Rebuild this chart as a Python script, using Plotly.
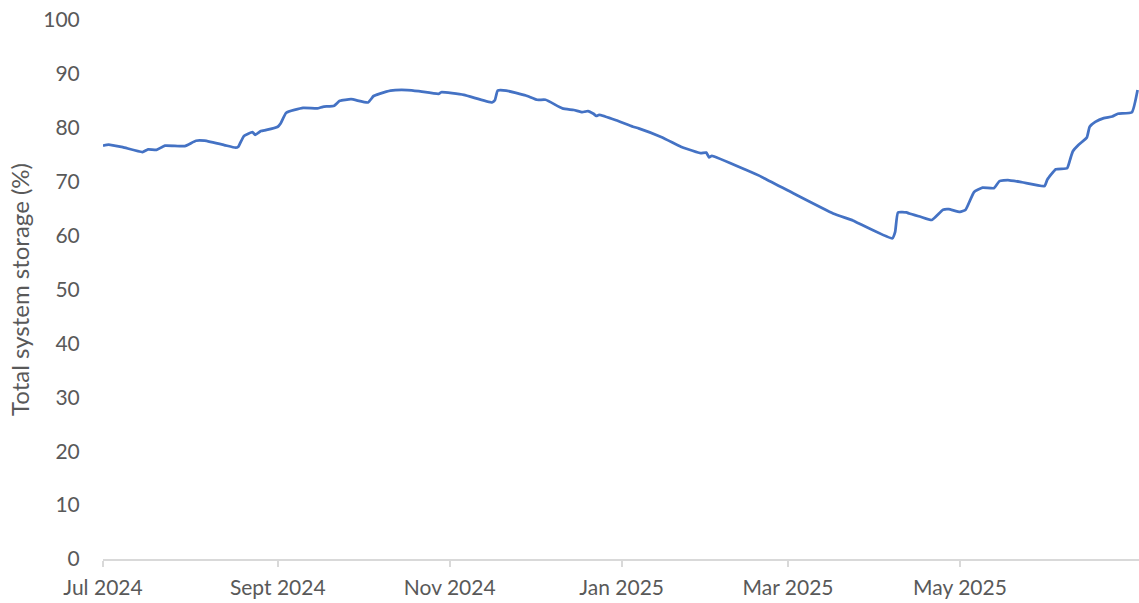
import plotly.graph_objects as go

dates = [
    "2024-07-01", "2024-07-03", "2024-07-08", "2024-07-15", "2024-07-17", "2024-07-20",
    "2024-07-23", "2024-07-30", "2024-08-03", "2024-08-06", "2024-08-13", "2024-08-17",
    "2024-08-18", "2024-08-20", "2024-08-23", "2024-08-24", "2024-08-26", "2024-08-28",
    "2024-09-01", "2024-09-02", "2024-09-04", "2024-09-10", "2024-09-15", "2024-09-17",
    "2024-09-21", "2024-09-23", "2024-09-27", "2024-10-03", "2024-10-05", "2024-10-07",
    "2024-10-11", "2024-10-17", "2024-10-21", "2024-10-28", "2024-10-29", "2024-11-06",
    "2024-11-16", "2024-11-17", "2024-11-18", "2024-11-21", "2024-11-28", "2024-12-02",
    "2024-12-05", "2024-12-11", "2024-12-15", "2024-12-18", "2024-12-19", "2024-12-20",
    "2024-12-22", "2024-12-23", "2024-12-24", "2024-12-30", "2025-01-05", "2025-01-07",
    "2025-01-15", "2025-01-22", "2025-01-24", "2025-01-29", "2025-01-31", "2025-02-01",
    "2025-02-02", "2025-02-14", "2025-02-20", "2025-03-03", "2025-03-17", "2025-03-24",
    "2025-03-26", "2025-04-07", "2025-04-08", "2025-04-09", "2025-04-12", "2025-04-13",
    "2025-04-17", "2025-04-21", "2025-04-25", "2025-04-27", "2025-05-01", "2025-05-03",
    "2025-05-06", "2025-05-09", "2025-05-13", "2025-05-15", "2025-05-18", "2025-05-23",
    "2025-05-31", "2025-06-01", "2025-06-04", "2025-06-08", "2025-06-09", "2025-06-10",
    "2025-06-12", "2025-06-15", "2025-06-16", "2025-06-18", "2025-06-21", "2025-06-24",
    "2025-06-26", "2025-07-01", "2025-07-03",
]
storage = [
    76.7, 76.9, 76.4, 75.5, 76.0, 75.9,
    76.7, 76.6, 77.6, 77.6, 76.8, 76.3,
    76.5, 78.5, 79.2, 78.7, 79.4, 79.6,
    80.2, 80.8, 82.8, 83.7, 83.6, 83.9,
    84.1, 85.0, 85.3, 84.7, 85.9, 86.3,
    86.9, 87.0, 86.8, 86.3, 86.6, 86.1,
    84.7, 85.1, 86.9, 86.9, 86.0, 85.2,
    85.2, 83.6, 83.3, 82.9, 83.0, 83.1,
    82.6, 82.2, 82.4, 81.4, 80.2, 79.9,
    78.3, 76.5, 76.1, 75.3, 75.4, 74.5,
    74.8, 72.2, 70.8, 67.8, 64.1, 62.8,
    62.3, 59.5, 60.7, 64.3, 64.3, 64.1,
    63.5, 62.9, 64.8, 64.9, 64.4, 64.8,
    68.1, 68.9, 68.8, 70.1, 70.3, 69.9,
    69.2, 70.4, 72.3, 72.5, 74.0, 75.6,
    76.8, 78.2, 80.2, 81.1, 81.8, 82.1,
    82.6, 82.9, 87.0,
]

tick_vals = ["2024-07-01", "2024-09-01", "2024-11-01", "2025-01-01", "2025-03-01", "2025-05-01"]
tick_text = ["Jul 2024", "Sept 2024", "Nov 2024", "Jan 2025", "Mar 2025", "May 2025"]

FONT = "Lato, Calibri, 'Open Sans', sans-serif"
GREY = "#595959"

fig = go.Figure()
fig.add_trace(go.Scatter(
    x=dates, y=storage, mode="lines",
    line=dict(color="#4472C4", width=2.75, shape="spline", smoothing=0.4),
    showlegend=False, hoverinfo="x+y",
))

fig.update_layout(
    width=1139, height=603,
    margin=dict(l=103, r=0, t=20, b=44, autoexpand=False),
    paper_bgcolor="white", plot_bgcolor="white",
    font=dict(family=FONT, size=21, color=GREY),
    xaxis=dict(
        type="date",
        range=["2024-07-01", "2025-07-03 12:00"],
        tickvals=tick_vals, ticktext=tick_text,
        showgrid=False, zeroline=False,
        showline=True, linecolor="#d9d9d9", linewidth=1.5,
        ticks="outside", ticklen=6, tickcolor="#d9d9d9", tickwidth=1.5,
        tickfont=dict(family=FONT, size=21, color=GREY),
        ticklabelstandoff=3,
        automargin=False,
    ),
    yaxis=dict(
        range=[0, 100], dtick=10, tick0=0,
        showgrid=False, zeroline=False, showline=False,
        ticks="outside", ticklen=18, tickcolor="rgba(0,0,0,0)",
        tickfont=dict(family=FONT, size=21, color=GREY),
        title=dict(text="Total system storage (%)", font=dict(family=FONT, size=24, color=GREY), standoff=6),
        automargin=False,
    ),
)

fig.write_html(
    "out.html",
    config={"displayModeBar": False},
    post_script="document.body.style.margin='0';document.body.style.padding='0';",
)
